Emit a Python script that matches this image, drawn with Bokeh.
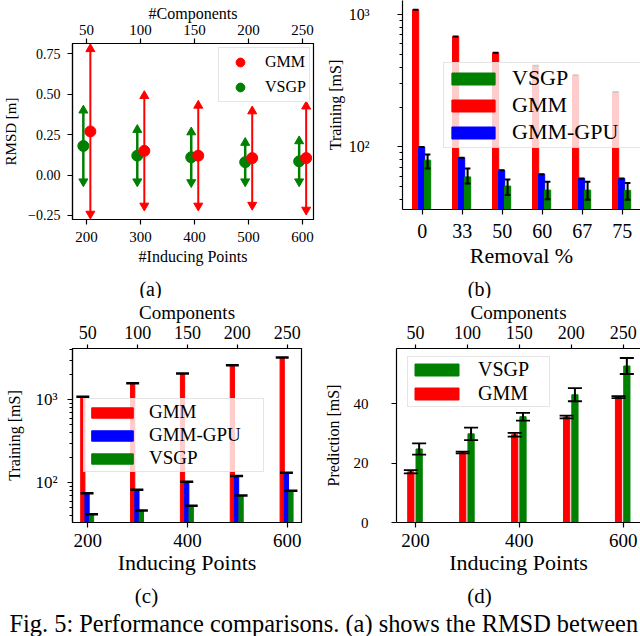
import numpy as np
from bokeh.plotting import figure
from bokeh.models import Range1d, LinearAxis, FixedTicker, Legend, LegendItem
from bokeh.layouts import column, row
from bokeh.embed import file_html
from bokeh.resources import INLINE
from bokeh.core.properties import value

FONT = "Liberation Serif"
RED, GREEN, BLUE, BLACK = "#ff0000", "#008000", "#0000ff", "#000000"

# ---------------- data ----------------
inducing = [200, 300, 400, 500, 600]
components = [50, 100, 150, 200, 250]

# (a) RMSD [m]
a_gmm_mean = [0.27, 0.15, 0.12, 0.105, 0.105]
a_gmm_err = [0.51, 0.34, 0.31, 0.29, 0.32]
a_vsgp_mean = [0.18, 0.12, 0.11, 0.08, 0.085]
a_vsgp_err = [0.22, 0.16, 0.155, 0.12, 0.125]

# (b) training time vs removal %
removal = ["0", "33", "50", "60", "67", "75"]
b_gmm = [1085, 682, 514, 410, 347, 260]
b_gpu = [100, 83, 66.7, 62.2, 57.8, 57.8]
b_vsgp = [79.4, 59.4, 50.6, 47.2, 47.2, 47.0]
b_vsgp_lo = [68.7, 52.9, 43.3, 40.3, 40.0, 40.0]
b_vsgp_hi = [87.7, 68.7, 56.8, 54.7, 54.7, 53.5]

# (c) training time vs inducing points
c_gmm = [1094, 1592, 2080, 2610, 3250]
c_gpu = [75.4, 83, 103.5, 121, 132.7]
c_vsgp = [42, 46.5, 53.3, 70.6, 80.4]

# (d) prediction time
d_gmm = [17.1, 23.6, 29.6, 35.6, 42.3]
d_gmm_err = [0.55, 0.3, 0.65, 0.45, 0.35]
d_vsgp = [24.8, 29.9, 35.7, 43.1, 52.8]
d_vsgp_err = [1.9, 2.1, 1.3, 2.2, 2.7]

sub_captions = ["(a)", "(b)", "(c)", "(d)"]
caption = "Fig. 5: Performance comparisons. (a) shows the RMSD between"


def base_fig(**kw):
    p = figure(output_backend="svg", toolbar_location=None, frame_align=False, **kw)
    p.xgrid.visible = False
    p.ygrid.visible = False
    p.background_fill_color = "white"
    p.border_fill_color = "white"
    return p


def style_axis(ax, tick_px, label_px, tick_standoff, label_standoff):
    ax.axis_line_color = BLACK
    ax.axis_line_width = 1.2
    ax.major_tick_line_color = BLACK
    ax.major_tick_line_width = 1.2
    ax.major_tick_in = 0
    ax.major_tick_out = 5
    ax.minor_tick_line_color = BLACK
    ax.minor_tick_line_width = 1
    ax.minor_tick_in = 0
    ax.minor_tick_out = 3
    ax.major_label_text_font = FONT
    ax.major_label_text_font_size = f"{tick_px}px"
    ax.major_label_text_color = BLACK
    ax.major_label_standoff = tick_standoff
    ax.axis_label_text_font = FONT
    ax.axis_label_text_font_size = f"{label_px}px"
    ax.axis_label_text_font_style = "normal"
    ax.axis_label_text_color = BLACK
    ax.axis_label_standoff = label_standoff


def add_legend(p, items, loc, font_px, gw, gh, lh, spacing, padding, standoff, lw):
    lg = Legend(items=items, location=loc, orientation="vertical")
    lg.label_text_font = FONT
    lg.label_text_font_size = f"{font_px}px"
    lg.label_text_color = BLACK
    lg.glyph_width = gw
    lg.glyph_height = gh
    lg.label_height = lh
    lg.label_width = lw
    lg.spacing = spacing
    lg.padding = padding
    lg.label_standoff = standoff
    lg.margin = 0
    lg.background_fill_color = "white"
    lg.background_fill_alpha = 0.8
    lg.border_line_color = "#cccccc"
    lg.border_line_width = 1
    p.add_layout(lg, "center")


def text_strip(width, height):
    s = figure(width=width, height=height, x_range=Range1d(0, width), y_range=Range1d(0, height),
               x_axis_location=None, y_axis_location=None, min_border=0, frame_align=False,
               output_backend="svg", toolbar_location=None)
    s.outline_line_color = None
    s.grid.visible = False
    s.background_fill_color = "white"
    s.border_fill_color = "white"
    return s


comp_labels = {i: str(c) for i, c in zip(inducing, components)}
log_minor_b = [40, 50, 60, 70, 80, 90, 200, 300, 400, 500, 600, 700, 800, 900]
log_minor_c = log_minor_b + [2000, 3000, 4000]
log_labels = {100: "10²", 1000: "10³"}

# ---------------- (a) ----------------
pa = base_fig(width=322, height=270, x_range=Range1d(173.9, 620.6), y_range=Range1d(-0.275, 0.814),
              min_border_left=68, min_border_right=9, min_border_top=43, min_border_bottom=51)
pa.outline_line_color = BLACK
pa.outline_line_width = 1.2

xa = np.array(inducing, dtype=float)
xg = xa - 6
xr = xa + 7
vm, ve = np.array(a_vsgp_mean), np.array(a_vsgp_err)
gm, ge = np.array(a_gmm_mean), np.array(a_gmm_err)
pa.segment(x0=xg, y0=vm - ve, x1=xg, y1=vm + ve, line_color=GREEN, line_width=2.5)
pa.scatter(x=xg, y=vm + ve, marker="triangle", size=9, color=GREEN)
pa.scatter(x=xg, y=vm - ve, marker="inverted_triangle", size=9, color=GREEN)
r_av = pa.scatter(x=xg, y=vm, marker="circle", size=11, color=GREEN)
pa.segment(x0=xr, y0=gm - ge, x1=xr, y1=gm + ge, line_color=RED, line_width=2)
pa.scatter(x=xr, y=gm + ge, marker="triangle", size=9, color=RED)
pa.scatter(x=xr, y=gm - ge, marker="inverted_triangle", size=9, color=RED)
r_ag = pa.scatter(x=xr, y=gm, marker="circle", size=11, color=RED)

pa.xaxis.ticker = FixedTicker(ticks=inducing)
pa.xaxis.axis_label = "#Inducing Points"
style_axis(pa.xaxis[0], 15, 16, 7, 3)
pa.yaxis.ticker = FixedTicker(ticks=[-0.25, 0.0, 0.25, 0.5, 0.75])
pa.yaxis.major_label_overrides = {-0.25: "−0.25", 0.0: "0.00", 0.25: "0.25", 0.5: "0.50", 0.75: "0.75"}
pa.yaxis.axis_label = "RMSD [m]"
style_axis(pa.yaxis[0], 14, 15, 7, 6)
top_a = LinearAxis(ticker=FixedTicker(ticks=inducing), major_label_overrides=comp_labels,
                   axis_label="#Components")
style_axis(top_a, 15, 16, 4, 0)
pa.add_layout(top_a, "above")

add_legend(pa, [LegendItem(label="GMM", renderers=[r_ag]), LegendItem(label="VSGP", renderers=[r_av])],
           (146, 117), 16, 36, 22, 22, 3, 3, 7, 40)

# ---------------- (b) ----------------
pb = base_fig(width=318, height=270, x_range=Range1d(-0.4925, 5.4575), y_range=Range1d(33.7, 1275),
              y_axis_type="log",
              min_border_left=80, min_border_right=0, min_border_top=0, min_border_bottom=61)
pb.outline_line_color = None

xb = np.arange(len(removal), dtype=float)
wb = 0.155
xb_r, xb_b, xb_g = xb - 0.165, xb - 0.015, xb + 0.135
r_bg = pb.vbar(x=xb_r, top=b_gmm, bottom=1, width=wb, color=RED)
r_bb = pb.vbar(x=xb_b, top=b_gpu, bottom=1, width=wb, color=BLUE)
r_bv = pb.vbar(x=xb_g, top=b_vsgp, bottom=1, width=wb, color=GREEN)
pb.segment(x0=xb_r - 0.07, y0=b_gmm, x1=xb_r + 0.07, y1=b_gmm, line_color=BLACK, line_width=2)
pb.segment(x0=xb_b - 0.07, y0=b_gpu, x1=xb_b + 0.07, y1=b_gpu, line_color=BLACK, line_width=2)
pb.segment(x0=xb_g, y0=b_vsgp_lo, x1=xb_g, y1=b_vsgp_hi, line_color=BLACK, line_width=2)
pb.segment(x0=xb_g - 0.07, y0=b_vsgp_lo, x1=xb_g + 0.07, y1=b_vsgp_lo, line_color=BLACK, line_width=2)
pb.segment(x0=xb_g - 0.07, y0=b_vsgp_hi, x1=xb_g + 0.07, y1=b_vsgp_hi, line_color=BLACK, line_width=2)

pb.xaxis.ticker = FixedTicker(ticks=list(range(len(removal))))
pb.xaxis.major_label_overrides = {i: s for i, s in enumerate(removal)}
pb.xaxis.axis_label = "Removal %"
style_axis(pb.xaxis[0], 20, 22, 9, 2)
pb.yaxis.ticker = FixedTicker(ticks=[100, 1000], minor_ticks=log_minor_b)
pb.yaxis.major_label_overrides = log_labels
pb.yaxis.axis_label = "Training [mS]"
style_axis(pb.yaxis[0], 16, 16, 28, 2)

add_legend(pb, [LegendItem(label="VSGP", renderers=[r_bv]), LegendItem(label="GMM", renderers=[r_bg]),
                LegendItem(label="GMM-GPU", renderers=[r_bb])],
           (41, 61), 22, 54, 15, 22, 1, 2, 12, 126)

# ---------------- (c) ----------------
pc = base_fig(width=320, height=279, x_range=Range1d(169.3, 628.7), y_range=Range1d(33.4, 4159),
              y_axis_type="log",
              min_border_left=72, min_border_right=19, min_border_top=49, min_border_bottom=54)
pc.outline_line_color = BLACK
pc.outline_line_width = 1.2

xc = np.array(inducing, dtype=float)
wc = 8.5
xc_r, xc_b, xc_g = xc - 10, xc - 1.5, xc + 7.5
r_cg = pc.vbar(x=xc_r, top=c_gmm, bottom=1, width=wc, color=RED)
r_cb = pc.vbar(x=xc_b, top=c_gpu, bottom=1, width=wc, color=BLUE)
r_cv = pc.vbar(x=xc_g, top=c_vsgp, bottom=1, width=wc, color=GREEN)
for xx, vv in ((xc_r, c_gmm), (xc_b, c_gpu), (xc_g, c_vsgp)):
    pc.segment(x0=xx - 13, y0=vv, x1=xx + 13, y1=vv, line_color=BLACK, line_width=2.5)

pc.xaxis.ticker = FixedTicker(ticks=[200, 400, 600])
pc.xaxis.axis_label = "Inducing Points"
style_axis(pc.xaxis[0], 19, 22, 6, 0)
pc.yaxis.ticker = FixedTicker(ticks=[100, 1000], minor_ticks=log_minor_c)
pc.yaxis.major_label_overrides = log_labels
pc.yaxis.axis_label = "Training [mS]"
style_axis(pc.yaxis[0], 17, 16, 10, 9)
top_c = LinearAxis(ticker=FixedTicker(ticks=inducing), major_label_overrides=comp_labels,
                   axis_label="Components")
style_axis(top_c, 18, 19, 6, 0)
top_c.major_tick_out = 4
pc.add_layout(top_c, "above")

add_legend(pc, [LegendItem(label="GMM", renderers=[r_cg]), LegendItem(label="GMM-GPU", renderers=[r_cb]),
                LegendItem(label="VSGP", renderers=[r_cv])],
           (11, 50), 19, 52, 13, 21, 1, 2, 11, 112)

# ---------------- (d) ----------------
pd_ = base_fig(width=320, height=279, x_range=Range1d(163.4, 633.3), y_range=Range1d(0, 58.7),
               min_border_left=76, min_border_right=0, min_border_top=49, min_border_bottom=54)
pd_.outline_line_color = None

xd = np.array(inducing, dtype=float)
wd = 12
xd_r, xd_g = xd - 9, xd + 7
r_dg = pd_.vbar(x=xd_r, top=d_gmm, bottom=0, width=wd, color=RED)
r_dv = pd_.vbar(x=xd_g, top=d_vsgp, bottom=0, width=wd, color=GREEN)
for xx, vv, ee in ((xd_r, d_gmm, d_gmm_err), (xd_g, d_vsgp, d_vsgp_err)):
    vv, ee = np.array(vv), np.array(ee)
    pd_.segment(x0=xx, y0=vv - ee, x1=xx, y1=vv + ee, line_color=BLACK, line_width=2)
    pd_.segment(x0=xx - 13.5, y0=vv - ee, x1=xx + 13.5, y1=vv - ee, line_color=BLACK, line_width=1.8)
    pd_.segment(x0=xx - 13.5, y0=vv + ee, x1=xx + 13.5, y1=vv + ee, line_color=BLACK, line_width=1.8)

pd_.xaxis.ticker = FixedTicker(ticks=[200, 400, 600])
pd_.xaxis.axis_label = "Inducing Points"
style_axis(pd_.xaxis[0], 19, 22, 6, 0)
pd_.yaxis.ticker = FixedTicker(ticks=[0, 20, 40])
pd_.yaxis.axis_label = "Prediction [mS]"
style_axis(pd_.yaxis[0], 15, 16, 23, 9)
top_d = LinearAxis(ticker=FixedTicker(ticks=inducing), major_label_overrides=comp_labels,
                   axis_label="Components")
style_axis(top_d, 18, 19, 6, 0)
top_d.major_tick_out = 4
pd_.add_layout(top_d, "above")

add_legend(pd_, [LegendItem(label="VSGP", renderers=[r_dv]), LegendItem(label="GMM", renderers=[r_dg])],
           (11, 115), 20, 55, 15, 22, 1, 1, 14, 70)

# ---------------- sub-captions and caption ----------------
s1 = text_strip(640, 28)
s1.text(x=[150, 479], y=[10, 10], text=sub_captions[:2], text_font=value(FONT), text_font_size="20px",
        text_align="center", text_baseline="middle", text_color=BLACK)

s2 = text_strip(640, 59)
s2.text(x=[146, 479], y=[41, 41], text=sub_captions[2:], text_font=value(FONT), text_font_size="21px",
        text_align="center", text_baseline="middle", text_color=BLACK)
s2.text(x=[9], y=[13], text=[caption], text_font=value(FONT), text_font_size="24.4px",
        text_align="left", text_baseline="middle", text_color=BLACK)

layout = column(row(pa, pb), s1, row(pc, pd_), s2)
open("out.html", "w").write(file_html(layout, INLINE))
